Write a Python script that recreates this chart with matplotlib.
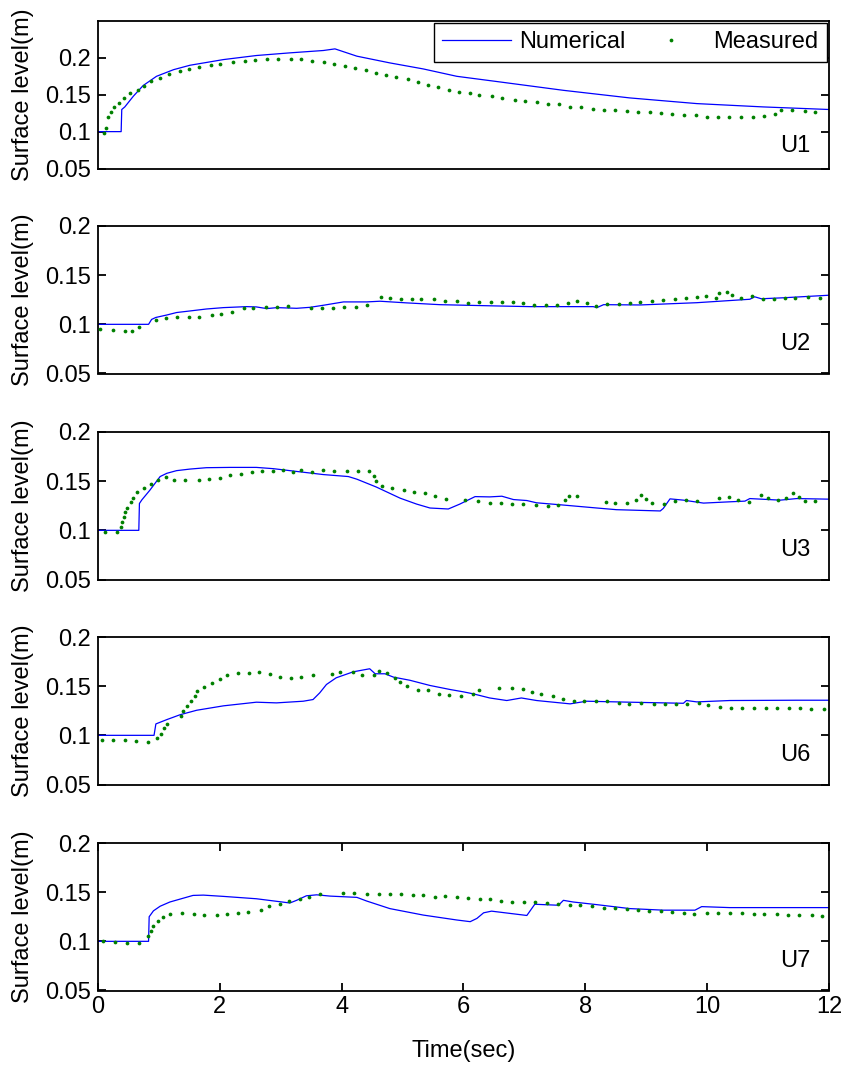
import matplotlib
matplotlib.use("Agg")
import matplotlib.pyplot as plt

plt.rcParams['font.family'] = ['Liberation Sans', 'DejaVu Sans']

# ---- gauge names ----
gauges = ["U1", "U2", "U3", "U6", "U7"]

# ---- U1 ----
u1_num_t = [0, 0.38, 0.39, 0.44, 0.58, 0.74, 0.96, 1.24, 1.51, 2.06, 2.60, 3.15, 3.70, 3.89,
            4.25, 4.79, 5.34, 5.89, 6.54, 7.64, 8.73, 9.83, 10.92, 12.0]
u1_num_v = [0.100, 0.100, 0.130, 0.1335, 0.148, 0.1624, 0.175, 0.184, 0.190, 0.1977, 0.2032,
            0.2068, 0.210, 0.2122, 0.2023, 0.1932, 0.185, 0.175, 0.168, 0.156, 0.1457, 0.138,
            0.1335, 0.130]
u1_meas_t = [0.10, 0.13, 0.16, 0.21, 0.27, 0.34, 0.42, 0.53, 0.65, 0.76, 0.87, 1.02, 1.17, 1.34,
             1.49, 1.66, 1.85, 2.01, 2.21, 2.41, 2.58, 2.77, 2.95, 3.17, 3.33, 3.52, 3.71, 3.88,
             4.05, 4.22, 4.40, 4.56, 4.73, 4.90, 5.09, 5.26, 5.41, 5.58, 5.76, 5.92, 6.10, 6.26,
             6.46, 6.63, 6.84, 7.01, 7.20, 7.38, 7.56, 7.75, 7.93, 8.12, 8.31, 8.49, 8.68, 8.87,
             9.06, 9.24, 9.43, 9.62, 9.81, 9.99, 10.18, 10.36, 10.56, 10.75, 10.94, 11.11, 11.21,
             11.39, 11.61, 11.77]
u1_meas_v = [0.098, 0.105, 0.120, 0.126, 0.133, 0.139, 0.146, 0.152, 0.157, 0.162, 0.168, 0.173,
             0.178, 0.182, 0.185, 0.187, 0.190, 0.192, 0.195, 0.196, 0.197, 0.198, 0.198, 0.199,
             0.199, 0.196, 0.195, 0.192, 0.189, 0.186, 0.183, 0.180, 0.177, 0.174, 0.171, 0.167,
             0.163, 0.160, 0.157, 0.154, 0.153, 0.150, 0.148, 0.145, 0.143, 0.142, 0.140, 0.138,
             0.137, 0.134, 0.133, 0.131, 0.130, 0.129, 0.128, 0.127, 0.126, 0.125, 0.124, 0.122,
             0.122, 0.120, 0.120, 0.120, 0.120, 0.120, 0.121, 0.124, 0.130, 0.129, 0.128, 0.126]

# ---- U2 ----
u2_num_t = [0, 0.83, 0.88, 0.95, 1.13, 1.29, 1.51, 1.78, 2.06, 2.44, 2.60, 2.77, 2.94, 3.26,
            3.48, 3.70, 4.03, 4.41, 4.63, 5.07, 5.61, 6.54, 7.09, 8.13, 8.19, 8.30, 8.90, 9.83,
            10.70, 10.78, 10.89, 11.25, 12.0]
u2_num_v = [0.100, 0.100, 0.105, 0.107, 0.1095, 0.112, 0.1136, 0.1156, 0.117, 0.118, 0.1177,
            0.116, 0.117, 0.1163, 0.1173, 0.1194, 0.1228, 0.1228, 0.1235, 0.1218, 0.120, 0.1187,
            0.118, 0.118, 0.117, 0.120, 0.1197, 0.122, 0.1255, 0.128, 0.126, 0.127, 0.1296]
u2_meas_t = [0.04, 0.24, 0.44, 0.55, 0.67, 0.95, 1.12, 1.30, 1.49, 1.66, 1.87, 2.02, 2.20, 2.40,
             2.55, 2.75, 2.94, 3.12, 3.49, 3.68, 3.85, 4.04, 4.24, 4.41, 4.65, 4.79, 4.97, 5.15,
             5.30, 5.51, 5.70, 5.89, 6.08, 6.26, 6.45, 6.64, 6.81, 6.98, 7.16, 7.35, 7.54, 7.72,
             7.86, 8.02, 8.17, 8.36, 8.55, 8.73, 8.90, 9.09, 9.28, 9.47, 9.65, 9.84, 9.98, 10.14,
             10.20, 10.32, 10.41, 10.56, 10.74, 10.91, 11.10, 11.28, 11.45, 11.66, 11.85]
u2_meas_v = [0.0949, 0.0939, 0.0932, 0.0932, 0.0973, 0.104, 0.1068, 0.1078, 0.1071, 0.1078,
             0.1092, 0.1109, 0.1129, 0.1163, 0.117, 0.1177, 0.118, 0.119, 0.1163, 0.1163, 0.1163,
             0.1173, 0.118, 0.120, 0.128, 0.127, 0.126, 0.126, 0.1255, 0.1255, 0.1238, 0.1235,
             0.1214, 0.1231, 0.1228, 0.1224, 0.1224, 0.1214, 0.120, 0.120, 0.120, 0.1214, 0.124,
             0.1214, 0.1184, 0.121, 0.121, 0.1214, 0.1231, 0.124, 0.1248, 0.1258, 0.1265, 0.128,
             0.129, 0.127, 0.132, 0.1333, 0.1296, 0.127, 0.129, 0.126, 0.1255, 0.127, 0.127,
             0.128, 0.127]

# ---- U3 ----
u3_num_t = [0, 0.67, 0.68, 0.72, 0.85, 1.02, 1.13, 1.29, 1.51, 1.78, 2.17, 2.60, 2.88, 3.15,
            3.70, 4.11, 4.25, 4.57, 4.96, 5.23, 5.45, 5.75, 5.94, 6.19, 6.43, 6.63, 6.82, 7.04,
            7.20, 7.64, 8.19, 8.51, 9.23, 9.28, 9.39, 9.61, 9.94, 10.37, 10.62, 10.70, 11.20,
            11.47, 12.0]
u3_num_v = [0.100, 0.100, 0.1273, 0.131, 0.1407, 0.1547, 0.158, 0.1607, 0.1623, 0.1637, 0.164,
            0.164, 0.1627, 0.1607, 0.1567, 0.1547, 0.152, 0.144, 0.1327, 0.1267, 0.1227, 0.1217,
            0.1267, 0.1343, 0.134, 0.1347, 0.1313, 0.1303, 0.128, 0.1257, 0.1227, 0.121, 0.1197,
            0.1223, 0.132, 0.1307, 0.1277, 0.129, 0.1297, 0.1323, 0.1307, 0.1323, 0.1317]
u3_meas_t = [0.11, 0.31, 0.37, 0.40, 0.42, 0.44, 0.48, 0.54, 0.57, 0.64, 0.76, 0.87, 0.99, 1.12,
             1.25, 1.43, 1.65, 1.83, 2.00, 2.16, 2.34, 2.52, 2.70, 2.88, 3.04, 3.20, 3.34, 3.51,
             3.70, 3.88, 4.08, 4.26, 4.45, 4.53, 4.56, 4.66, 4.83, 5.02, 5.19, 5.36, 5.53, 5.72,
             6.02, 6.24, 6.43, 6.62, 6.79, 6.98, 7.19, 7.38, 7.55, 7.66, 7.74, 7.87, 8.34, 8.49,
             8.68, 8.83, 8.92, 9.00, 9.09, 9.29, 9.48, 9.66, 9.83, 10.19, 10.36, 10.51, 10.68,
             10.88, 11.00, 11.17, 11.30, 11.41, 11.50, 11.61, 11.77]
u3_meas_v = [0.098, 0.0983, 0.1033, 0.108, 0.1133, 0.1183, 0.123, 0.129, 0.1333, 0.1387, 0.143,
             0.1473, 0.1513, 0.1543, 0.1513, 0.1507, 0.1507, 0.152, 0.1537, 0.156, 0.1577, 0.1597,
             0.1603, 0.160, 0.161, 0.1597, 0.1613, 0.1593, 0.1613, 0.1603, 0.1603, 0.1603, 0.160,
             0.155, 0.150, 0.1447, 0.1433, 0.1413, 0.1387, 0.1377, 0.135, 0.1323, 0.131, 0.130,
             0.1283, 0.1277, 0.1267, 0.1267, 0.1257, 0.125, 0.1257, 0.1313, 0.1353, 0.1347,
             0.1293, 0.1273, 0.1283, 0.131, 0.136, 0.1317, 0.1277, 0.127, 0.1297, 0.131, 0.130,
             0.1333, 0.1343, 0.1313, 0.1287, 0.136, 0.133, 0.1307, 0.133, 0.1383, 0.1343, 0.130,
             0.130]

# ---- U6 ----
u6_num_t = [0, 0.92, 0.95, 1.13, 1.35, 1.62, 2.06, 2.60, 2.93, 3.37, 3.53, 3.64, 3.75, 3.91,
            4.19, 4.46, 4.55, 4.71, 4.85, 5.12, 5.45, 5.78, 6.00, 6.16, 6.43, 6.71, 6.95, 7.20,
            7.75, 8.02, 8.73, 9.61, 9.66, 9.83, 10.37, 11.47, 12.0]
u6_num_v = [0.100, 0.100, 0.1116, 0.116, 0.121, 0.1255, 0.130, 0.1337, 0.133, 0.1347, 0.1364,
            0.1432, 0.1517, 0.1585, 0.1646, 0.1677, 0.1626, 0.1626, 0.1592, 0.156, 0.1507,
            0.1466, 0.1442, 0.1422, 0.138, 0.1354, 0.138, 0.1354, 0.132, 0.1347, 0.1337, 0.1326,
            0.1354, 0.134, 0.1354, 0.1357, 0.1357]
u6_meas_t = [0.06, 0.25, 0.45, 0.63, 0.82, 0.97, 1.03, 1.09, 1.13, 1.36, 1.40, 1.46, 1.53, 1.59,
             1.62, 1.74, 1.87, 2.00, 2.11, 2.30, 2.48, 2.65, 2.83, 2.99, 3.17, 3.34, 3.53, 3.84,
             3.98, 4.18, 4.34, 4.53, 4.62, 4.75, 4.87, 4.96, 5.08, 5.25, 5.42, 5.59, 5.77, 5.96,
             6.15, 6.26, 6.59, 6.79, 6.97, 7.13, 7.28, 7.47, 7.64, 7.81, 7.98, 8.17, 8.36, 8.55,
             8.72, 8.92, 9.12, 9.30, 9.49, 9.67, 9.86, 10.02, 10.21, 10.39, 10.58, 10.77, 10.96,
             11.15, 11.34, 11.52, 11.70, 11.91]
u6_meas_v = [0.0949, 0.0949, 0.0949, 0.0939, 0.0935, 0.0969, 0.1014, 0.1071, 0.1119, 0.120,
             0.1245, 0.130, 0.135, 0.140, 0.1452, 0.1493, 0.153, 0.1571, 0.1612, 0.163, 0.1632,
             0.1643, 0.1619, 0.1595, 0.1578, 0.1595, 0.1609, 0.1619, 0.1643, 0.1643, 0.1612,
             0.1609, 0.1653, 0.1629, 0.1585, 0.1541, 0.150, 0.1466, 0.1456, 0.1425, 0.1415, 0.140,
             0.1422, 0.1466, 0.1483, 0.1483, 0.1476, 0.1445, 0.1422, 0.140, 0.137, 0.1354, 0.1347,
             0.135, 0.1347, 0.1326, 0.1316, 0.1326, 0.132, 0.132, 0.1323, 0.132, 0.1326, 0.1313,
             0.129, 0.1282, 0.1275, 0.1282, 0.1275, 0.1282, 0.1275, 0.1275, 0.1272, 0.1269]

# ---- U7 ----
u7_num_t = [0, 0.83, 0.84, 0.91, 1.02, 1.18, 1.35, 1.56, 1.73, 2.06, 2.60, 3.15, 3.26, 3.42,
            3.59, 3.81, 4.25, 4.41, 4.79, 5.34, 5.89, 6.11, 6.22, 6.33, 6.46, 7.04, 7.17, 7.56,
            7.64, 7.80, 8.19, 8.73, 9.28, 9.80, 9.91, 10.37, 10.92, 12.0]
u7_num_v = [0.100, 0.100, 0.125, 0.131, 0.1357, 0.140, 0.143, 0.1467, 0.147, 0.1457, 0.1433,
            0.139, 0.1417, 0.1463, 0.1473, 0.146, 0.1447, 0.141, 0.1333, 0.1267, 0.1217, 0.120,
            0.1233, 0.129, 0.1307, 0.1263, 0.1377, 0.1367, 0.1417, 0.140, 0.1373, 0.1333, 0.1317,
            0.1317, 0.1353, 0.1343, 0.1343, 0.1343]
u7_meas_t = [0.08, 0.28, 0.48, 0.67, 0.82, 0.87, 0.91, 0.98, 1.06, 1.19, 1.38, 1.57, 1.74, 1.95,
             2.11, 2.30, 2.47, 2.67, 2.81, 2.98, 3.14, 3.31, 3.47, 3.64, 4.02, 4.20, 4.41, 4.61,
             4.79, 4.98, 5.17, 5.34, 5.53, 5.70, 5.89, 6.07, 6.27, 6.43, 6.62, 6.80, 7.00, 7.17,
             7.37, 7.55, 7.75, 7.91, 8.11, 8.30, 8.49, 8.68, 8.86, 9.05, 9.24, 9.43, 9.62, 9.79,
             9.99, 10.18, 10.37, 10.57, 10.77, 10.94, 11.15, 11.32, 11.51, 11.72, 11.89]
u7_meas_v = [0.100, 0.0997, 0.0983, 0.0983, 0.1053, 0.110, 0.1157, 0.1207, 0.125, 0.128, 0.1287,
             0.1277, 0.1267, 0.1267, 0.1273, 0.1287, 0.130, 0.132, 0.1357, 0.1383, 0.141, 0.1433,
             0.1453, 0.1477, 0.1487, 0.1487, 0.1483, 0.148, 0.1483, 0.148, 0.1473, 0.147, 0.1453,
             0.1457, 0.1453, 0.144, 0.1433, 0.1427, 0.1413, 0.1397, 0.1403, 0.140, 0.1387, 0.138,
             0.137, 0.1367, 0.136, 0.1343, 0.1337, 0.1327, 0.1317, 0.1313, 0.131, 0.1303, 0.129,
             0.1283, 0.1287, 0.1287, 0.1287, 0.1287, 0.128, 0.1277, 0.1273, 0.127, 0.1267, 0.1267,
             0.126]

numerical = [(u1_num_t, u1_num_v), (u2_num_t, u2_num_v), (u3_num_t, u3_num_v),
             (u6_num_t, u6_num_v), (u7_num_t, u7_num_v)]
measured = [(u1_meas_t, u1_meas_v), (u2_meas_t, u2_meas_v), (u3_meas_t, u3_meas_v),
            (u6_meas_t, u6_meas_v), (u7_meas_t, u7_meas_v)]

y_ticks = [0.05, 0.1, 0.15, 0.2]
y_tick_labels = ["0.05", "0.1", "0.15", "0.2"]
x_ticks = [0, 2, 4, 6, 8, 10, 12]
y_tops = [0.25, 0.2, 0.2, 0.2, 0.2]

W, H = 845, 1065
fig = plt.figure(figsize=(W / 100, H / 100), dpi=100)

left_px, right_px = 98, 829
top_px = [21, 226, 432, 637, 843]
panel_h = 147.5
FS = 17
LW_AX = 1.3

axes = []
for i, name in enumerate(gauges):
    bottom = 1 - (top_px[i] + panel_h) / H
    ax = fig.add_axes([left_px / W, bottom, (right_px - left_px) / W, panel_h / H])
    axes.append(ax)
    t, v = numerical[i]
    tm, vm = measured[i]
    ln, = ax.plot(t, v, color='#0000ff', lw=0.9, label='Numerical', zorder=2)
    pt, = ax.plot(tm, vm, linestyle='none', marker='o', ms=2.7, mew=0,
                  color='#008000', label='Measured', zorder=3)
    ax.set_xlim(0, 12)
    ax.set_ylim(0.05, y_tops[i])
    ax.set_yticks(y_ticks)
    ax.set_yticklabels(y_tick_labels)
    ax.tick_params(axis='y', which='both', direction='in', left=True, right=True,
                   length=6, width=LW_AX, labelsize=FS, pad=5)
    for s in ax.spines.values():
        s.set_linewidth(LW_AX)
    if i < len(gauges) - 1:
        ax.tick_params(axis='x', which='both', bottom=False, top=False, labelbottom=False)
    else:
        ax.set_xticks(x_ticks)
        ax.set_xticklabels([str(x) for x in x_ticks])
        ax.tick_params(axis='x', which='both', direction='in', bottom=True, top=True,
                       length=6, width=LW_AX, labelsize=FS, pad=4)
        ax.set_xlabel('Time(sec)', fontsize=FS, labelpad=16)
    ax.set_ylabel('Surface level(m)', fontsize=FS)
    ax.yaxis.set_label_coords(-0.088, 0.5)
    ax.text(11.2, 0.08, name, fontsize=FS, ha='left', va='center')

    if i == 0:
        leg = ax.legend(handles=[ln, pt], loc='upper right', bbox_to_anchor=(0.997, 0.986),
                        borderaxespad=0, ncol=2, fontsize=FS, handlelength=2.9,
                        handletextpad=0.34, columnspacing=0.5, numpoints=1,
                        fancybox=False, framealpha=1, edgecolor='black', borderpad=0.35)
        leg.get_frame().set_linewidth(1.0)

fig.savefig('out.png', dpi=100)
